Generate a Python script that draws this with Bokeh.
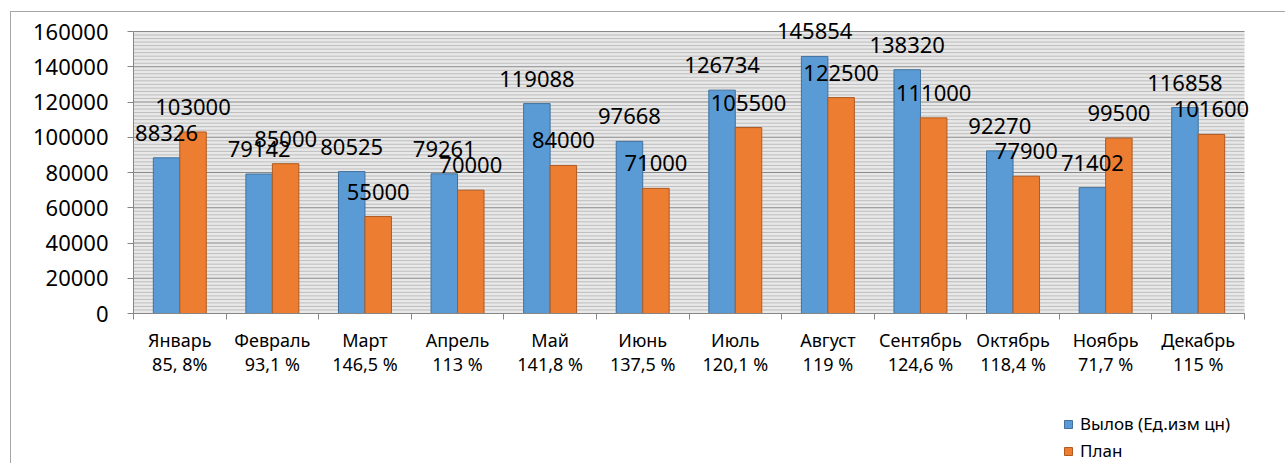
import numpy as np
from bokeh.plotting import figure
from bokeh.layouts import column
from bokeh.models import (ColumnDataSource, FixedTicker, LabelSet, Legend, LegendItem, Range1d,
                          BasicTickFormatter)
from bokeh.core.properties import value
from bokeh.embed import file_html
from bokeh.resources import INLINE

months = ["Январь", "Февраль", "Март", "Апрель", "Май", "Июнь", "Июль",
          "Август", "Сентябрь", "Октябрь", "Ноябрь", "Декабрь"]
percents = ["85, 8%", "93,1 %", "146,5 %", "113 %", "141,8 %", "137,5 %",
            "120,1 %", "119 %", "124,6 %", "118,4 %", "71,7 %", "115 %"]
catch = [88326, 79142, 80525, 79261, 119088, 97668, 126734, 145854, 138320, 92270, 71402, 116858]
plan = [103000, 85000, 55000, 70000, 84000, 71000, 105500, 122500, 111000, 77900, 99500, 101600]
series_names = ["Вылов (Ед.изм цн)", "План"]
y_max = 160000
y_ticks = list(range(0, y_max + 1, 20000))
y_minor = [v for v in range(0, y_max + 1, 2000) if v not in y_ticks]

FONT = "Noto Sans"
BLUE, BLUE_EDGE = "#5b9bd5", "#41719c"
ORANGE, ORANGE_EDGE = "#ed7d31", "#ae5a21"

n = len(months)
centers = np.arange(n) + 0.5
bw = 0.286

# plot area (gray) is 1111 x 282 px; frame extended by 12px top/right so labels are not clipped
PW, PH, EXT = 1111, 282, 12
x_end = n * (PW + EXT) / PW
y_end = y_max * (PH + EXT) / PH

src_c = ColumnDataSource(dict(x=centers - bw / 2, y=catch, t=[str(v) for v in catch]))
src_p = ColumnDataSource(dict(x=centers + bw / 2, y=plan, t=[str(v) for v in plan]))

p = figure(width=1274, height=389, output_backend="svg", toolbar_location=None,
           x_range=Range1d(0, x_end), y_range=Range1d(0, y_end),
           frame_width=PW + EXT, frame_height=PH + EXT,
           min_border_left=122, min_border_right=41 - EXT, min_border_top=19 - EXT,
           min_border_bottom=88)
p.background_fill_color = "white"
p.border_fill_color = "white"
p.outline_line_color = None
p.xgrid.grid_line_color = None
p.ygrid.grid_line_color = None

# plot area background and gridlines
p.quad(left=0, right=n, bottom=0, top=y_max, fill_color="#e8e8e8", line_color=None, level="underlay")
p.segment(x0=[0] * len(y_minor), x1=[n] * len(y_minor), y0=y_minor, y1=y_minor,
          line_color="#bdbdbd", line_width=1, level="underlay")
p.segment(x0=[0] * len(y_ticks), x1=[n] * len(y_ticks), y0=y_ticks, y1=y_ticks,
          line_color="#8a8a8a", line_width=1, level="underlay")

p.vbar(x="x", top="y", width=bw, source=src_c, fill_color=BLUE, line_color=BLUE_EDGE, line_width=1)
p.vbar(x="x", top="y", width=bw, source=src_p, fill_color=ORANGE, line_color=ORANGE_EDGE, line_width=1)

for s in (src_c, src_p):
    p.add_layout(LabelSet(x="x", y="y", text="t", source=s, y_offset=17,
                          text_align="center", text_baseline="alphabetic",
                          text_font=value(FONT), text_font_size="22px", text_color="black"))

# Y axis
p.yaxis.ticker = FixedTicker(ticks=y_ticks)
p.yaxis.bounds = (0, y_max)
p.yaxis.formatter = BasicTickFormatter(use_scientific=False)
p.yaxis.major_label_text_font = FONT
p.yaxis.major_label_text_font_size = "22px"
p.yaxis.major_label_text_color = "black"
p.yaxis.major_label_standoff = 19
p.yaxis.axis_line_color = "#868686"
p.yaxis.major_tick_line_color = "#868686"
p.yaxis.major_tick_in = 0
p.yaxis.major_tick_out = 6
p.yaxis.minor_tick_line_color = None

# X axis: labels at centers, ticks at boundaries
p.xaxis.ticker = FixedTicker(ticks=list(centers), minor_ticks=list(range(n + 1)))
p.xaxis.bounds = (0, n)
p.xaxis.major_label_overrides = {float(c): f"{m}\n{pc}" for c, m, pc in zip(centers, months, percents)}
p.xaxis.major_label_text_font = FONT
p.xaxis.major_label_text_font_size = "18px"
p.xaxis.major_label_text_color = "black"
p.xaxis.major_label_text_line_height = 1.0
p.xaxis.major_label_standoff = 8
p.xaxis.major_tick_line_color = None
p.xaxis.minor_tick_line_color = "#868686"
p.xaxis.minor_tick_in = 0
p.xaxis.minor_tick_out = 6
p.xaxis.axis_line_color = "#868686"

# legend strip below the chart (its frame is aligned with the chart's frame)
q = figure(width=1274, height=62, output_backend="svg", toolbar_location=None,
           x_range=Range1d(0, 1), y_range=Range1d(0, 1), min_border=0,
           x_axis_type=None, y_axis_type=None)
q.outline_line_color = None
q.grid.visible = False
q.background_fill_color = "white"
q.border_fill_color = "white"
# legend-only renderers, kept outside the visible range
l1 = q.vbar(x=[-5], top=[-5], bottom=[-6], width=0.1, fill_color=BLUE, line_color=BLUE_EDGE)
l2 = q.vbar(x=[-5], top=[-5], bottom=[-6], width=0.1, fill_color=ORANGE, line_color=ORANGE_EDGE)
legend = Legend(items=[LegendItem(label=series_names[0], renderers=[l1]),
                       LegendItem(label=series_names[1], renderers=[l2])],
                location=(930, 1), orientation="vertical",
                glyph_width=10, glyph_height=10, label_height=20, spacing=4,
                padding=0, margin=0, border_line_color=None, background_fill_alpha=0,
                label_text_font=FONT, label_text_font_size="17px", label_text_color="black",
                label_standoff=7)
q.add_layout(legend, "center")

lay = column(p, q, spacing=0)
lay.margin = (11, 0, 0, 10)
lay.styles = {"border-top": "1px solid #a6a6a6", "border-left": "1px solid #a6a6a6"}

open("out.html", "w").write(file_html(lay, INLINE))
